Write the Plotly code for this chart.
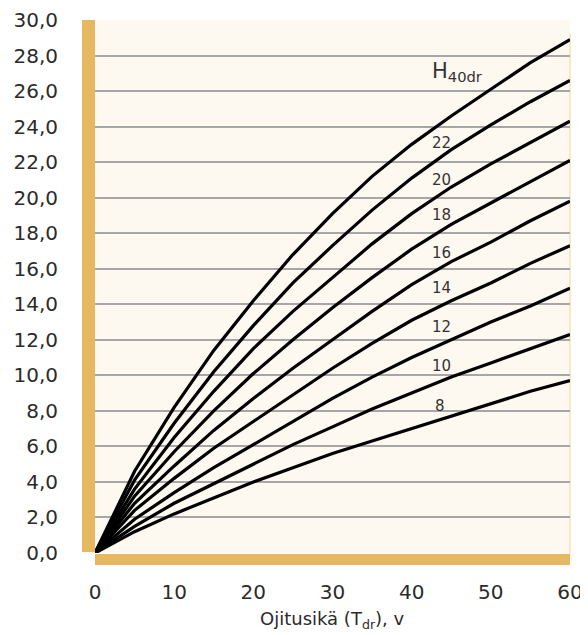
import plotly.graph_objects as go

# Drainage age (years)
ages = [0, 5, 10, 15, 20, 25, 30, 35, 40, 45, 50, 55, 60]

# H40dr site index curves (label -> values)
h24 = [0, 4.6, 8.2, 11.4, 14.2, 16.8, 19.1, 21.2, 23.0, 24.6, 26.1, 27.6, 28.9]
h22 = [0, 4.1, 7.3, 10.2, 12.8, 15.2, 17.3, 19.3, 21.1, 22.7, 24.1, 25.4, 26.6]
h20 = [0, 3.6, 6.5, 9.1, 11.5, 13.6, 15.5, 17.4, 19.1, 20.6, 21.9, 23.1, 24.3]
h18 = [0, 3.2, 5.7, 8.0, 10.1, 12.0, 13.8, 15.5, 17.1, 18.5, 19.7, 20.9, 22.1]
h16 = [0, 2.8, 4.9, 6.9, 8.7, 10.4, 12.0, 13.6, 15.1, 16.4, 17.5, 18.7, 19.8]
h14 = [0, 2.4, 4.2, 5.9, 7.4, 8.9, 10.4, 11.8, 13.1, 14.2, 15.2, 16.3, 17.3]
h12 = [0, 1.9, 3.4, 4.8, 6.1, 7.4, 8.7, 9.9, 11.0, 12.0, 13.0, 13.9, 14.9]
h10 = [0, 1.5, 2.8, 3.9, 5.0, 6.1, 7.1, 8.1, 9.0, 9.9, 10.7, 11.5, 12.3]
h8 = [0, 1.2, 2.2, 3.1, 4.0, 4.8, 5.6, 6.3, 7.0, 7.7, 8.4, 9.1, 9.7]

series = [h24, h22, h20, h18, h16, h14, h12, h10, h8]

# Curve labels and their positions (age, height)
label_texts = ["H<sub>40dr</sub>", "22", "20", "18", "16", "14", "12", "10", "8"]
label_x = [45.8, 43.8, 43.8, 43.8, 43.8, 43.8, 43.8, 43.8, 43.6]
label_y = [27.1, 23.1, 21.0, 19.0, 16.9, 14.9, 12.7, 10.5, 8.3]
label_sizes = [21, 15, 15, 15, 15, 15, 15, 15, 15]

y_ticks = [0, 2, 4, 6, 8, 10, 12, 14, 16, 18, 20, 22, 24, 26, 28, 30]
y_tick_text = [f"{v},0" for v in y_ticks]
x_ticks = [0, 10, 20, 30, 40, 50, 60]
x_title = "Ojitusikä (T<sub>dr</sub>), v"

FONT = "'DejaVu Sans', 'Noto Sans', sans-serif"
TXT = "#2b2b2b"
ORANGE = "#E5B861"

PLOT_W = 475
PLOT_H = 533

fig = go.Figure()
for vals in series:
    fig.add_trace(go.Scatter(
        x=ages, y=vals, mode="lines",
        line=dict(color="black", width=3.2),
        hoverinfo="skip", showlegend=False,
    ))

for t, lx, ly, s in zip(label_texts, label_x, label_y, label_sizes):
    fig.add_annotation(x=lx, y=ly, text=t, showarrow=False,
                       font=dict(family=FONT, size=s, color="#333333"))

# X axis title as annotation (fixed position)
fig.add_annotation(xref="paper", yref="paper", x=0.5, y=-67 / PLOT_H,
                   yanchor="middle", xanchor="center", showarrow=False,
                   text=x_title, font=dict(family=FONT, size=18, color=TXT))

# Left and bottom decorative bars
fig.add_shape(type="rect", xref="paper", yref="paper",
              x0=-13 / PLOT_W, x1=0, y0=0.002, y1=1.0,
              fillcolor=ORANGE, line=dict(width=0), layer="below")
fig.add_shape(type="rect", xref="paper", yref="paper",
              x0=0, x1=1, y0=-12 / PLOT_H, y1=-1 / PLOT_H,
              fillcolor=ORANGE, line=dict(width=0), layer="below")
fig.add_shape(type="line", xref="paper", yref="paper",
              x0=1, x1=1, y0=-1 / PLOT_H, y1=0.975,
              line=dict(color="#F6E2BC", width=1.5), layer="below")

fig.update_layout(
    width=580, height=627,
    margin=dict(l=87, r=18, t=12, b=82),
    paper_bgcolor="white",
    plot_bgcolor="#FDF8F0",
    font=dict(family=FONT, color=TXT),
    xaxis=dict(
        range=[0, 60], tickvals=x_ticks, showgrid=False, zeroline=False,
        showline=False, ticks="outside", ticklen=21, automargin=False,
        tickcolor="rgba(0,0,0,0)", tickfont=dict(size=20, color=TXT),
    ),
    yaxis=dict(
        range=[0, 30], tickvals=y_ticks, ticktext=y_tick_text,
        showgrid=True, gridcolor="#A6A6A6", gridwidth=2, automargin=False,
        zeroline=False, showline=False, ticks="outside", ticklen=32,
        tickcolor="rgba(0,0,0,0)", tickfont=dict(size=20, color=TXT),
    ),
)

fig.write_html("out.html")
